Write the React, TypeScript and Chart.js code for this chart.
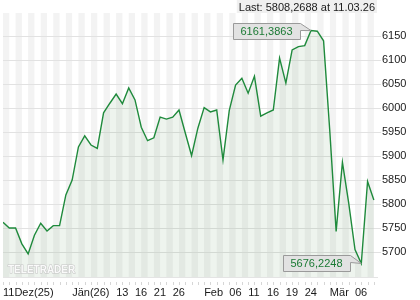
import React, { useEffect, useRef } from "react";
import { Chart, registerables } from "chart.js";

Chart.register(...registerables);

const dates: string[] = [
  "11.12.25", "12.12.25", "15.12.25", "16.12.25", "17.12.25", "18.12.25", "19.12.25", "22.12.25", "23.12.25", "29.12.25", "30.12.25",
  "02.01.26", "05.01.26", "06.01.26", "07.01.26", "08.01.26", "09.01.26", "12.01.26", "13.01.26", "14.01.26", "15.01.26", "16.01.26",
  "19.01.26", "20.01.26", "21.01.26", "22.01.26", "23.01.26", "26.01.26", "27.01.26", "28.01.26", "29.01.26", "30.01.26",
  "02.02.26", "03.02.26", "04.02.26", "05.02.26", "06.02.26", "09.02.26", "10.02.26", "11.02.26", "12.02.26", "13.02.26",
  "16.02.26", "17.02.26", "18.02.26", "19.02.26", "20.02.26", "23.02.26", "24.02.26", "25.02.26", "26.02.26", "27.02.26",
  "02.03.26", "03.03.26", "04.03.26", "05.03.26", "06.03.26", "09.03.26", "10.03.26", "11.03.26",
];

const values: number[] = [
  5762, 5750, 5750, 5717, 5696, 5735, 5760, 5744, 5755, 5755,
  5819, 5850, 5919, 5942, 5923, 5916, 5990, 6010, 6029, 6009,
  6042, 6017, 5960, 5932, 5938, 5981, 5977, 5981, 5996, 5948,
  5901, 5958, 6001, 5992, 5996, 5892, 5995, 6048, 6062, 6031,
  6066, 5983, 5990, 5996, 6104, 6052, 6121, 6128, 6130, 6161.3863,
  6160, 6140, 5950, 5743, 5887, 5802, 5705, 5676.2248, 5847, 5808.2688,
];

const xTickDates: string[] = ["11.12.25", "02.01.26", "13.01.26", "16.01.26", "21.01.26", "26.01.26", "02.02.26", "06.02.26", "11.02.26", "16.02.26", "19.02.26", "24.02.26", "02.03.26", "06.03.26"];
const xTickTexts: string[] = ["11Dez(25)", "Jän(26)", "13", "16", "21", "26", "Feb", "06", "11", "16", "19", "24", "Mär", "06"];

const yTickValues: number[] = [5700, 5750, 5800, 5850, 5900, 5950, 6000, 6050, 6100, 6150];
const yMin = 5648;
const yMax = 6198;

const FONT = "'Liberation Sans', Arial, sans-serif";

const fmt = (v: number) => v.toFixed(4).replace(".", ",");

const stripesPlugin = {
  id: "stripes",
  beforeDraw(chart: any) {
    const { ctx, chartArea } = chart;
    const xs = chart.scales.x;
    ctx.save();
    ctx.fillStyle = "#ffffff";
    ctx.fillRect(chartArea.left, chartArea.top, chartArea.right - chartArea.left, chartArea.bottom - chartArea.top);
    ctx.fillStyle = "#f3f3f3";
    for (let i = 0; i < values.length; i += 2) {
      const x0 = Math.max(chartArea.left, xs.getPixelForValue(i));
      const x1 = Math.min(chartArea.right, xs.getPixelForValue(i + 1));
      if (x1 > x0) ctx.fillRect(x0, chartArea.top, x1 - x0, chartArea.bottom - chartArea.top);
    }
    ctx.restore();
  },
};

const decorPlugin = {
  id: "decor",
  afterDatasetsDraw(chart: any) {
    const { ctx, chartArea } = chart;
    const xs = chart.scales.x;
    const ys = chart.scales.y;
    ctx.save();
    // tick marks under the plot
    ctx.strokeStyle = "#d6d6d6";
    ctx.lineWidth = 1;
    for (let i = 0; i < values.length; i++) {
      const x = Math.round(xs.getPixelForValue(i)) + 0.5;
      ctx.beginPath();
      ctx.moveTo(x, chartArea.bottom + 5);
      ctx.lineTo(x, chartArea.bottom + 8);
      ctx.stroke();
    }
    // watermark
    ctx.font = "bold 10px " + FONT;
    ctx.textBaseline = "alphabetic";
    ctx.textAlign = "left";
    ctx.fillStyle = "#fafafa";
    ctx.strokeStyle = "#c4c4c4";
    ctx.lineWidth = 1;
    ctx.strokeText("TELETRADER", chartArea.left + 5, chartArea.bottom - 4);
    ctx.fillText("TELETRADER", chartArea.left + 5, chartArea.bottom - 4);

    // min / max bubbles
    let maxI = 0, minI = 0;
    values.forEach((v, i) => {
      if (v > values[maxI]) maxI = i;
      if (v < values[minI]) minI = i;
    });
    const bubble = (i: number) => {
      const tx = xs.getPixelForValue(i);
      const ty = ys.getPixelForValue(values[i]);
      const text = fmt(values[i]);
      ctx.font = "11px " + FONT;
      const w = Math.round(ctx.measureText(text).width) + 15;
      const h = 16;
      const right = Math.round(tx - 11) + 0.5;
      const left = right - w;
      const top = Math.round(ty - 8) + 0.5;
      ctx.beginPath();
      ctx.moveTo(left, top);
      ctx.lineTo(right, top);
      ctx.lineTo(tx, ty);
      ctx.lineTo(right, top + 7);
      ctx.lineTo(right, top + h);
      ctx.lineTo(left, top + h);
      ctx.closePath();
      ctx.fillStyle = "#e2e2e2";
      ctx.fill();
      ctx.strokeStyle = "#9a9a9a";
      ctx.lineWidth = 1;
      ctx.stroke();
      ctx.fillStyle = "#1b7a34";
      ctx.textBaseline = "middle";
      ctx.textAlign = "left";
      ctx.fillText(text, left + 7, top + h / 2 + 0.5);
    };
    bubble(maxI);
    bubble(minI);

    // last value header
    const last = values[values.length - 1];
    const lastText = "Last: " + fmt(last) + " at " + dates[dates.length - 1];
    ctx.font = "11px " + FONT;
    const tw = ctx.measureText(lastText).width;
    ctx.fillStyle = "#f0f0f0";
    ctx.fillRect(chartArea.right - tw - 4, 0, tw + 4, chartArea.top);
    ctx.fillStyle = "#1a1a1a";
    ctx.textAlign = "right";
    ctx.textBaseline = "alphabetic";
    ctx.fillText(lastText, chartArea.right - 2, 11);
    ctx.restore();
  },
};

export default function App() {
  const ref = useRef<HTMLCanvasElement | null>(null);
  useEffect(() => {
    document.body.style.margin = "0";
    const canvas = ref.current;
    if (!canvas) return;
    const chart = new Chart(canvas, {
      type: "line",
      data: {
        labels: dates,
        datasets: [
          {
            data: values.map((v, i) => ({ x: i, y: v })),
            borderColor: "#1f8a3c",
            borderWidth: 1.4,
            pointRadius: 0,
            tension: 0,
            fill: "start",
            backgroundColor: "rgba(40,110,40,0.08)",
          },
        ],
      },
      options: {
        animation: false,
        responsive: false,
        maintainAspectRatio: false,
        events: [],
        layout: { padding: { top: 13, left: 3, right: 0, bottom: 0 } },
        plugins: { legend: { display: false }, tooltip: { enabled: false } },
        scales: {
          x: {
            type: "linear",
            min: 0,
            max: values.length - 0.5,
            position: "bottom",
            afterFit: (s: any) => {
              s.height = 23;
              s.paddingLeft = 0;
              s.paddingRight = 0;
            },
            afterBuildTicks: (s: any) => {
              s.ticks = xTickDates.map((d) => ({ value: dates.indexOf(d) }));
            },
            grid: { display: true, drawOnChartArea: false, drawTicks: false, color: "rgba(0,0,0,0)" },
            border: { display: true, color: "#e4e4e4" },
            ticks: {
              autoSkip: false,
              maxRotation: 0,
              align: "start",
              padding: 9,
              color: "#1a1a1a",
              font: { family: FONT, size: 11 },
              callback: (v: any) => {
                const k = xTickDates.indexOf(dates[v as number]);
                return k >= 0 ? xTickTexts[k] : "";
              },
            },
          },
          y: {
            position: "right",
            min: yMin,
            max: yMax,
            afterFit: (s: any) => {
              s.width = 43;
              s.paddingTop = 0;
              s.paddingBottom = 0;
            },
            afterBuildTicks: (s: any) => {
              s.ticks = yTickValues.map((v) => ({ value: v }));
            },
            grid: { color: "#e2e2e2", tickLength: 4, drawTicks: true },
            border: { display: false },
            ticks: {
              padding: 1,
              color: "#1a1a1a",
              font: { family: FONT, size: 11 },
              callback: (v: any) => String(v),
            },
          },
        },
      },
      plugins: [stripesPlugin, decorPlugin],
    } as any);
    return () => chart.destroy();
  }, []);
  return (
    <div style={{ width: 420, height: 300 }}>
      <canvas ref={ref} width={420} height={300} style={{ width: 420, height: 300, display: "block" }} />
    </div>
  );
}
